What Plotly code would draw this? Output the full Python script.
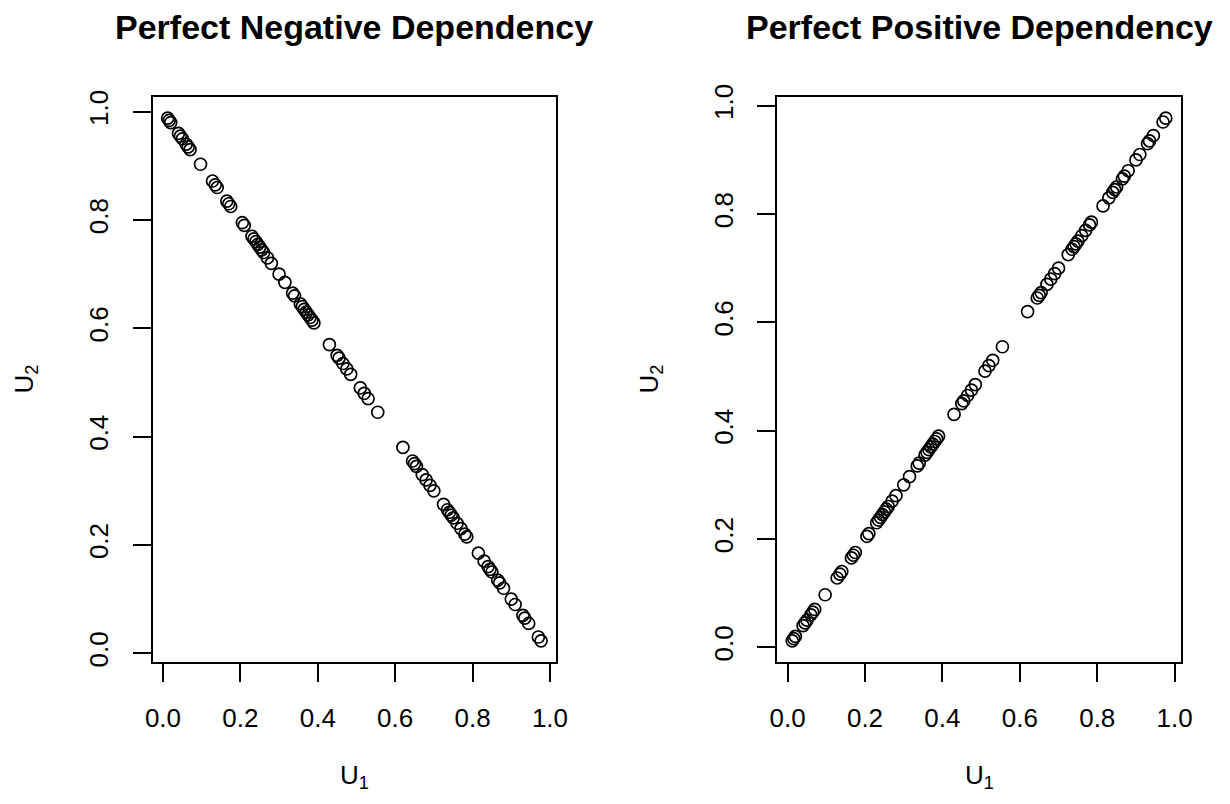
import plotly.graph_objects as go

u1 = [0.012, 0.016, 0.02, 0.04, 0.045, 0.05, 0.06, 0.065, 0.07, 0.097, 0.128, 0.135,
      0.14, 0.165, 0.17, 0.175, 0.205, 0.21, 0.23, 0.235, 0.24, 0.245, 0.25, 0.255,
      0.26, 0.27, 0.28, 0.30, 0.315, 0.335, 0.34, 0.355, 0.36, 0.365, 0.37, 0.375,
      0.38, 0.385, 0.39, 0.43, 0.45, 0.455, 0.465, 0.475, 0.485, 0.51, 0.52, 0.53,
      0.555, 0.62, 0.645, 0.65, 0.655, 0.67, 0.68, 0.69, 0.70, 0.725, 0.735, 0.74,
      0.745, 0.75, 0.76, 0.77, 0.78, 0.785, 0.815, 0.83, 0.84, 0.845, 0.85, 0.865,
      0.87, 0.88, 0.90, 0.91, 0.93, 0.935, 0.945, 0.97, 0.977]
u2_neg = [1 - v for v in u1]
u2_pos = list(u1)

titles = ["Perfect Negative Dependency", "Perfect Positive Dependency"]
tick_vals = [0.0, 0.2, 0.4, 0.6, 0.8, 1.0]
tick_text = ["0.0", "0.2", "0.4", "0.6", "0.8", "1.0"]

def rng(vals):
    lo, hi = min(vals), max(vals)
    pad = 0.04 * (hi - lo)
    return [lo - pad, hi + pad]

FONT = "Liberation Sans, Arial, sans-serif"
W, H = 1230, 804
OFF = 8  # page body margin offset

def fx(px):
    return (px - OFF) / W

def fy(py):
    return 1 - (py - OFF) / H

fig = go.Figure()
marker = dict(symbol="circle-open", size=12, color="black", line=dict(width=1.7, color="black"))
fig.add_trace(go.Scatter(x=u1, y=u2_neg, mode="markers", marker=marker, xaxis="x", yaxis="y", showlegend=False))
fig.add_trace(go.Scatter(x=u1, y=u2_pos, mode="markers", marker=marker, xaxis="x2", yaxis="y2", showlegend=False))

ax_common = dict(
    showgrid=False, zeroline=False, showline=True, mirror=True, linecolor="black", linewidth=2,
    ticks="outside", ticklen=18, tickwidth=1.5, tickcolor="black",
    tickvals=tick_vals, ticktext=tick_text, automargin=False,
    tickfont=dict(family=FONT, size=26, color="black"),
)

dom_l = [fx(152.7), fx(556)]
dom_r = [fx(777.3), fx(1180.7)]
dom_y = [fy(661.7), fy(97.3)]

fig.update_layout(
    template="none",
    width=W, height=H,
    margin=dict(l=0, r=0, t=0, b=0, autoexpand=False),
    paper_bgcolor="white", plot_bgcolor="white",
    font=dict(family=FONT, color="black"),
    xaxis=dict(domain=dom_l, range=rng(u1), anchor="y", ticklabelstandoff=14, **ax_common),
    yaxis=dict(domain=dom_y, range=rng(u2_neg), anchor="x", tickangle=-90, ticklabelstandoff=14, **ax_common),
    xaxis2=dict(domain=dom_r, range=rng(u1), anchor="y2", ticklabelstandoff=14, **ax_common),
    yaxis2=dict(domain=dom_y, range=rng(u2_pos), anchor="x2", tickangle=-90, ticklabelstandoff=14, **ax_common),
)

annots = []
for i, t in enumerate(titles):
    dom = dom_l if i == 0 else dom_r
    cx = (dom[0] + dom[1]) / 2
    annots.append(dict(text="<b>%s</b>" % t, x=cx, y=fy(27), xref="paper", yref="paper",
                       showarrow=False, font=dict(family=FONT, size=34, color="black"),
                       xanchor="center", yanchor="middle"))
    annots.append(dict(text="U<sub>1</sub>", x=cx, y=fy(776), xref="paper", yref="paper",
                       showarrow=False, font=dict(family=FONT, size=26, color="black"),
                       xanchor="center", yanchor="middle"))
    yx = fx(25 if i == 0 else 650)
    annots.append(dict(text="U<sub>2</sub>", x=yx, y=(dom_y[0] + dom_y[1]) / 2, xref="paper", yref="paper",
                       showarrow=False, textangle=-90, font=dict(family=FONT, size=26, color="black"),
                       xanchor="center", yanchor="middle"))
fig.update_layout(annotations=annots)

fig.write_html("out.html")
